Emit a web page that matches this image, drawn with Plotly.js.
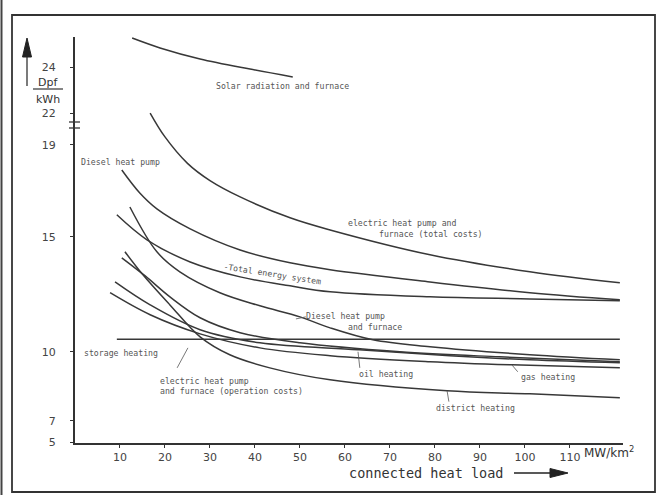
<!DOCTYPE html>
<html>
<head>
<meta charset="utf-8">
<script src="https://cdn.plot.ly/plotly-3.0.1.min.js"></script>
<style>html,body{margin:0;padding:0;background:#fff;}#chart{width:662px;height:495px;}</style>
</head>
<body>
<div id="chart"></div>
<script>
// ---- data ----
const solarX = [12.7, 18.9, 27.8, 38.9, 48.4];
const solarY = [25.26, 24.83, 24.35, 23.91, 23.57];

const elecTotalX = [16.7, 20, 25, 30, 36.7, 47.8, 56.7, 78.9, 101.1, 121.1];
const elecTotalY = [20.39, 19.35, 18.2, 17.45, 16.74, 15.83, 15.30, 14.22, 13.48, 13.0];

const dieselHpX = [10.4, 14.4, 18.2, 25.6, 36.7, 47.8, 56.7, 78.9, 101.1, 121.1];
const dieselHpY = [17.91, 16.91, 16.22, 15.35, 14.43, 13.87, 13.57, 13.04, 12.57, 12.26];

const totalEnergyX = [9.3, 16, 25.6, 36.7, 47.8, 56.7, 78.9, 101.1, 121.1];
const totalEnergyY = [15.96, 14.87, 13.91, 13.26, 12.87, 12.61, 12.39, 12.30, 12.22];

const dieselFurnX = [12.2, 18.2, 23.3, 32.2, 41.1, 50, 56.7, 66.2, 78.9, 101.1, 121.1];
const dieselFurnY = [16.30, 14.35, 13.48, 12.57, 12.0, 11.52, 11.04, 10.52, 10.22, 9.87, 9.65];

const elecOpX = [10.4, 15.6, 21.1, 27.8, 36.7, 50, 72.2, 94.4, 121.1];
const elecOpY = [14.09, 13.30, 12.39, 11.48, 10.83, 10.39, 10.0, 9.78, 9.57];

const oilX = [8.9, 16.7, 27.8, 41.1, 62.9, 83.3, 101.1, 121.1];
const oilY = [13.04, 12.04, 10.96, 10.39, 10.09, 9.83, 9.65, 9.52];

const gasX = [7.8, 16.7, 27.8, 41.1, 56.7, 78.9, 97.1, 121.1];
const gasY = [12.57, 11.61, 10.78, 10.17, 9.83, 9.57, 9.43, 9.30];

const districtX = [11.1, 15.1, 21.1, 27.8, 34.4, 43.3, 56.7, 82.7, 101.1, 121.1];
const districtY = [14.35, 13.35, 12.04, 10.65, 9.87, 9.30, 8.78, 8.30, 8.17, 8.0];

const storageX = [9.3, 121.1];
const storageY = [10.55, 10.55];

const xTickVals = [10, 20, 30, 40, 50, 60, 70, 80, 90, 100, 110];
const xTickText = ['10', '20', '30', '40', '50', '60', '70', '80', '90', '100', '110'];
const yLowTickVals = [6.06, 7, 10, 15, 19];
const yLowTickText = ['5', '7', '10', '15', '19'];
const yUpTickVals = [22, 24];
const yUpTickText = ['22', '24'];

// ---- styling ----
const LC = '#383838';
const FONT = 'DejaVu Sans';
const MONO = 'DejaVu Sans Mono';
const TC = '#555';

function curve(x, y, axis) {
  return {x: x, y: y, type: 'scatter', mode: 'lines', yaxis: axis || 'y',
    line: {color: LC, width: 1.5, shape: 'spline', smoothing: 1.0},
    hoverinfo: 'skip', showlegend: false};
}

const traces = [
  curve(solarX, solarY, 'y2'),
  curve(elecTotalX, elecTotalY),
  curve(dieselHpX, dieselHpY),
  curve(totalEnergyX, totalEnergyY),
  curve(dieselFurnX, dieselFurnY),
  curve(elecOpX, elecOpY),
  curve(oilX, oilY),
  curve(gasX, gasY),
  curve(districtX, districtY),
  curve(storageX, storageY)
];

// pixel helpers for paper placement (plot area: x 75..623, y 37..443)
const L = 75, R = 623, T = 37, B = 443;
const px = v => (v - L) / (R - L);
const py = v => (B - v) / (B - T);

function lab(text, x, y, opts) {
  return Object.assign({text: text, x: x, y: y, xref: 'x', yref: 'y', showarrow: false,
    xanchor: 'center', yanchor: 'middle',
    font: {family: MONO, size: 8.2, color: TC}}, opts || {});
}
function plab(text, x, y, font) {
  return {text: text, xref: 'paper', yref: 'paper', x: px(x), y: py(y), showarrow: false,
    xanchor: 'center', yanchor: 'middle', font: font};
}

const annotations = [
  lab('Solar radiation and furnace', 46.2, 23.17, {yref: 'y2'}),
  lab('Diesel heat pump', 10.2, 18.26),
  lab('electric heat pump and', 72.7, 15.61),
  lab('furnace (total costs)', 79.1, 15.13),
  lab('-Total energy system', 44, 13.39, {textangle: 9}),
  lab('Diesel heat pump', 60.2, 11.57),
  lab('and furnace', 66.7, 11.09),
  lab('storage heating', 10.2, 9.96),
  lab('electric heat pump', 18.4, 8.74, {xanchor: 'left'}),
  lab('and furnace (operation costs)', 18.4, 8.30, {xanchor: 'left'}),
  lab('oil heating', 69.1, 9.04),
  lab('gas heating', 105.1, 8.91),
  lab('district heating', 89.1, 7.57),
  // axis texts
  plab('connected heat load', 426, 473, {family: MONO, size: 13.5, color: '#333'}),
  plab('MW/km<sup>2</sup>', 609, 452, {family: FONT, size: 12, color: '#333'}),
  plab('Dpf', 48, 82, {family: FONT, size: 11, color: '#333'}),
  plab('kWh', 48, 99, {family: FONT, size: 11, color: '#333'})
];

function ppath(pts) {
  return 'M ' + pts.map(p => px(p[0]) + ',' + py(p[1])).join(' L ') + ' Z';
}

const thin = {color: '#555', width: 0.8};
const shapes = [
  // pointer lines
  {type: 'line', xref: 'x', yref: 'y', x0: 22.7, y0: 9.30, x1: 25.1, y1: 10.17, line: thin},
  {type: 'line', xref: 'x', yref: 'y', x0: 62.9, y0: 10.0, x1: 63.3, y1: 9.30, line: thin},
  {type: 'line', xref: 'x', yref: 'y', x0: 97.1, y0: 9.43, x1: 98.4, y1: 9.13, line: thin},
  {type: 'line', xref: 'x', yref: 'y', x0: 82.7, y0: 8.30, x1: 83.1, y1: 7.83, line: thin},
  {type: 'line', xref: 'x', yref: 'y', x0: 49.1, y0: 11.43, x1: 51.3, y1: 11.52, line: thin},
  // fraction bar of unit
  {type: 'line', xref: 'paper', yref: 'paper', x0: px(33), x1: px(63), y0: py(89), y1: py(89), line: {color: '#333', width: 1.2}},
  // y arrow
  {type: 'line', xref: 'paper', yref: 'paper', x0: px(27), x1: px(27), y0: py(86), y1: py(52), line: {color: '#222', width: 1.2}},
  {type: 'path', xref: 'paper', yref: 'paper', path: ppath([[22.5, 57], [27, 38], [31.5, 57]]), fillcolor: '#222', line: {color: '#222', width: 1}},
  // x arrow
  {type: 'line', xref: 'paper', yref: 'paper', x0: px(514), x1: px(554), y0: py(473), y1: py(473), line: {color: '#222', width: 1.3}},
  {type: 'path', xref: 'paper', yref: 'paper', path: ppath([[550, 468.5], [568, 473], [550, 477.5]]), fillcolor: '#222', line: {color: '#222', width: 1}},
  // axis break marks
  {type: 'line', xref: 'paper', yref: 'paper', x0: px(69), x1: px(80), y0: py(122), y1: py(122), line: {color: '#333', width: 1.3}},
  {type: 'line', xref: 'paper', yref: 'paper', x0: px(69), x1: px(80), y0: py(128), y1: py(128), line: {color: '#333', width: 1.3}},
  // outer frame
  {type: 'rect', xref: 'paper', yref: 'paper', x0: px(12), x1: px(655), y0: py(492), y1: py(15), line: {color: '#333', width: 1.8}},
  {type: 'line', xref: 'paper', yref: 'paper', x0: px(1.5), x1: px(1.5), y0: py(495), y1: py(0), line: {color: '#444', width: 2}}
];

const layout = {
  width: 662, height: 495,
  margin: {l: L, r: 662 - R, t: T, b: 495 - B, pad: 0},
  paper_bgcolor: '#ffffff', plot_bgcolor: 'rgba(0,0,0,0)',
  showlegend: false,
  xaxis: {range: [0, 121.8], anchor: 'y', showgrid: false, zeroline: false,
    showline: true, linecolor: '#333', linewidth: 2,
    tickmode: 'array', tickvals: xTickVals, ticktext: xTickText,
    ticks: 'outside', ticklen: 3, tickcolor: '#333',
    tickfont: {family: FONT, size: 11, color: '#444'}},
  yaxis: {domain: [0, py(108)], range: [6.03, 10 + (352 - 108) / 23], anchor: 'x',
    showgrid: false, zeroline: false, showline: true, linecolor: '#333', linewidth: 2,
    tickmode: 'array', tickvals: yLowTickVals, ticktext: yLowTickText,
    ticks: 'outside', ticklen: 3, tickcolor: '#333', ticklabelstandoff: 12,
    tickfont: {family: FONT, size: 11, color: '#444'}},
  yaxis2: {domain: [py(125), 1], range: [22 - 12 / 23, 22 + (113 - T) / 23], anchor: 'x',
    showgrid: false, zeroline: false, showline: true, linecolor: '#333', linewidth: 2,
    tickmode: 'array', tickvals: yUpTickVals, ticktext: yUpTickText,
    ticks: 'outside', ticklen: 3, tickcolor: '#333', ticklabelstandoff: 12,
    tickfont: {family: FONT, size: 11, color: '#444'}},
  annotations: annotations,
  shapes: shapes
};

Plotly.newPlot('chart', traces, layout, {staticPlot: true, displayModeBar: false});
</script>
</body>
</html>
